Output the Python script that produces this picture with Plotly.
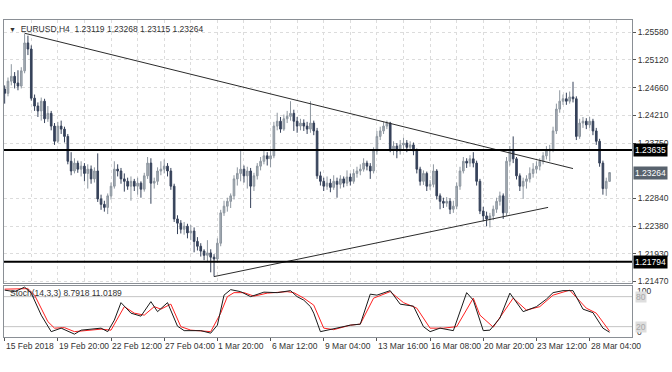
import datetime as dt
import plotly.graph_objects as go

# ---------------- data (EURUSD H4) ----------------
open_ = [
    1.2464, 1.2457, 1.2477, 1.2485, 1.2474, 1.2469, 1.2494, 1.2540, 1.2530, 1.2449,
    1.2436, 1.2428, 1.2444, 1.2415, 1.2424, 1.2403, 1.2378, 1.2403, 1.2398, 1.2386,
    1.2345, 1.2329, 1.2342, 1.2332, 1.2337, 1.2325, 1.2332, 1.2316, 1.2329, 1.2283,
    1.2274, 1.2269, 1.2288, 1.2304, 1.2332, 1.2329, 1.2316, 1.2312, 1.2304, 1.2312,
    1.2304, 1.2309, 1.2299, 1.2321, 1.2342, 1.2309, 1.2312, 1.2329, 1.2332, 1.2337,
    1.2329, 1.2304, 1.2250, 1.2243, 1.2233, 1.2238, 1.2227, 1.2230, 1.2213, 1.2205,
    1.2197, 1.2190, 1.2194, 1.2187, 1.2184, 1.2210, 1.2260, 1.2271, 1.2279, 1.2288,
    1.2316, 1.2325, 1.2332, 1.2321, 1.2329, 1.2304, 1.2321, 1.2337, 1.2345, 1.2354,
    1.2349, 1.2354, 1.2403, 1.2411, 1.2398, 1.2415, 1.2419, 1.2424, 1.2411, 1.2403,
    1.2408, 1.2403, 1.2398, 1.2408, 1.2395, 1.2321, 1.2312, 1.2304, 1.2309, 1.2302,
    1.2312, 1.2307, 1.2316, 1.2309, 1.2319, 1.2312, 1.2325, 1.2329, 1.2332, 1.2342,
    1.2337, 1.2329, 1.2362, 1.2386, 1.2395, 1.2403, 1.2408, 1.2365, 1.2370, 1.2362,
    1.2372, 1.2375, 1.2368, 1.2372, 1.2362, 1.2332, 1.2312, 1.2325, 1.2304, 1.2307,
    1.2329, 1.2288, 1.2279, 1.2276, 1.2279, 1.2266, 1.2271, 1.2304, 1.2329, 1.2345,
    1.2342, 1.2349, 1.2342, 1.2312, 1.2263, 1.2255, 1.2250, 1.2255, 1.2266, 1.2279,
    1.2288, 1.2260, 1.2345, 1.2362, 1.2349, 1.2321, 1.2304, 1.2312, 1.2316, 1.2325,
    1.2332, 1.2337, 1.2345, 1.2354, 1.2362, 1.2365, 1.2395, 1.2431, 1.2444, 1.2448,
    1.2444, 1.2451, 1.2448, 1.2386, 1.2408, 1.2411, 1.2405, 1.2411, 1.2395, 1.2378,
    1.2342, 1.2300, 1.23119,
]
high = [
    1.2470, 1.2483, 1.2505, 1.2492, 1.2495, 1.2500, 1.2555, 1.2552, 1.2536, 1.2455,
    1.2442, 1.2450, 1.2448, 1.2436, 1.2428, 1.2408, 1.2410, 1.2412, 1.2402, 1.2390,
    1.2360, 1.2350, 1.2346, 1.2345, 1.2342, 1.2340, 1.2338, 1.2335, 1.2358, 1.2290,
    1.2280, 1.2292, 1.2310, 1.2345, 1.2340, 1.2334, 1.2325, 1.2318, 1.2320, 1.2316,
    1.2318, 1.2312, 1.2326, 1.2352, 1.2350, 1.2318, 1.2335, 1.2345, 1.2348, 1.2342,
    1.2334, 1.2308, 1.2256, 1.2248, 1.2245, 1.2242, 1.2240, 1.2236, 1.2220, 1.2210,
    1.2200, 1.2215, 1.2200, 1.2192, 1.2218, 1.2265, 1.2280, 1.2285, 1.2292, 1.2322,
    1.2335, 1.2362, 1.2338, 1.2336, 1.2334, 1.2326, 1.2342, 1.2352, 1.2362, 1.2360,
    1.2365, 1.2410, 1.2425, 1.2418, 1.2422, 1.2428, 1.2444, 1.2430, 1.2418, 1.2415,
    1.2414, 1.2410, 1.2444, 1.2412, 1.2400, 1.2328, 1.2318, 1.2320, 1.2316, 1.2322,
    1.2318, 1.2322, 1.2320, 1.2330, 1.2325, 1.2332, 1.2336, 1.2340, 1.2350, 1.2346,
    1.2342, 1.2368, 1.2395, 1.2402, 1.2410, 1.2412, 1.2410, 1.2378, 1.2375, 1.2380,
    1.2384, 1.2380, 1.2378, 1.2376, 1.2366, 1.2336, 1.2330, 1.2328, 1.2314, 1.2340,
    1.2332, 1.2292, 1.2285, 1.2286, 1.2284, 1.2280, 1.2310, 1.2336, 1.2352, 1.2350,
    1.2355, 1.2360, 1.2346, 1.2316, 1.2270, 1.2262, 1.2260, 1.2272, 1.2285, 1.2295,
    1.2292, 1.2352, 1.2370, 1.2386, 1.2352, 1.2325, 1.2318, 1.2322, 1.2335, 1.2342,
    1.2345, 1.2350, 1.2360, 1.2370, 1.2372, 1.2402, 1.2440, 1.2462, 1.2455, 1.2458,
    1.2460, 1.2476, 1.2452, 1.2415, 1.2418, 1.2416, 1.2418, 1.2415, 1.2400, 1.2382,
    1.2346, 1.2318, 1.23268,
]
low = [
    1.2440, 1.2452, 1.2470, 1.2465, 1.2462, 1.2465, 1.2490, 1.2520, 1.2445, 1.2428,
    1.2418, 1.2412, 1.2408, 1.2410, 1.2396, 1.2372, 1.2375, 1.2390, 1.2376, 1.2340,
    1.2322, 1.2325, 1.2326, 1.2320, 1.2312, 1.2300, 1.2308, 1.2310, 1.2278, 1.2265,
    1.2262, 1.2258, 1.2282, 1.2300, 1.2320, 1.2308, 1.2295, 1.2298, 1.2280, 1.2296,
    1.2290, 1.2285, 1.2295, 1.2316, 1.2275, 1.2300, 1.2306, 1.2322, 1.2325, 1.2320,
    1.2298, 1.2245, 1.2225, 1.2226, 1.2224, 1.2218, 1.2215, 1.2195, 1.2198, 1.2188,
    1.2182, 1.2180, 1.2162, 1.2155, 1.2178, 1.2205, 1.2255, 1.2262, 1.2268, 1.2282,
    1.2305, 1.2312, 1.2310, 1.2300, 1.2268, 1.2296, 1.2315, 1.2330, 1.2340, 1.2338,
    1.2335, 1.2350, 1.2396, 1.2392, 1.2395, 1.2408, 1.2412, 1.2395, 1.2392, 1.2396,
    1.2395, 1.2390, 1.2392, 1.2388, 1.2316, 1.2305, 1.2296, 1.2298, 1.2294, 1.2298,
    1.2285, 1.2300, 1.2302, 1.2304, 1.2305, 1.2308, 1.2318, 1.2322, 1.2328, 1.2330,
    1.2316, 1.2325, 1.2356, 1.2380, 1.2390, 1.2398, 1.2360, 1.2355, 1.2350, 1.2356,
    1.2365, 1.2360, 1.2362, 1.2355, 1.2325, 1.2305, 1.2306, 1.2296, 1.2298, 1.2302,
    1.2282, 1.2266, 1.2268, 1.2270, 1.2258, 1.2260, 1.2266, 1.2298, 1.2325, 1.2334,
    1.2336, 1.2335, 1.2305, 1.2258, 1.2246, 1.2238, 1.2236, 1.2248, 1.2260, 1.2272,
    1.2250, 1.2255, 1.2338, 1.2342, 1.2315, 1.2296, 1.2283, 1.2300, 1.2310, 1.2318,
    1.2325, 1.2330, 1.2340, 1.2348, 1.2345, 1.2360, 1.2390, 1.2425, 1.2438, 1.2438,
    1.2440, 1.2442, 1.2380, 1.2382, 1.2400, 1.2398, 1.2400, 1.2388, 1.2372, 1.2336,
    1.2290, 1.2288, 1.23115,
]
close = [
    1.2457, 1.2477, 1.2485, 1.2474, 1.2469, 1.2494, 1.2540, 1.2530, 1.2449, 1.2436,
    1.2428, 1.2444, 1.2415, 1.2424, 1.2403, 1.2378, 1.2403, 1.2398, 1.2386, 1.2345,
    1.2329, 1.2342, 1.2332, 1.2337, 1.2325, 1.2332, 1.2316, 1.2329, 1.2283, 1.2274,
    1.2269, 1.2288, 1.2304, 1.2332, 1.2329, 1.2316, 1.2312, 1.2304, 1.2312, 1.2304,
    1.2309, 1.2299, 1.2321, 1.2342, 1.2309, 1.2312, 1.2329, 1.2332, 1.2337, 1.2329,
    1.2304, 1.2250, 1.2243, 1.2233, 1.2238, 1.2227, 1.2230, 1.2213, 1.2205, 1.2197,
    1.2190, 1.2194, 1.2187, 1.2184, 1.2210, 1.2260, 1.2271, 1.2279, 1.2288, 1.2316,
    1.2325, 1.2332, 1.2321, 1.2329, 1.2304, 1.2321, 1.2337, 1.2345, 1.2354, 1.2349,
    1.2354, 1.2403, 1.2411, 1.2398, 1.2415, 1.2419, 1.2424, 1.2411, 1.2403, 1.2408,
    1.2403, 1.2398, 1.2408, 1.2395, 1.2321, 1.2312, 1.2304, 1.2309, 1.2302, 1.2312,
    1.2307, 1.2316, 1.2309, 1.2319, 1.2312, 1.2325, 1.2329, 1.2332, 1.2342, 1.2337,
    1.2329, 1.2362, 1.2386, 1.2395, 1.2403, 1.2408, 1.2365, 1.2370, 1.2362, 1.2372,
    1.2375, 1.2368, 1.2372, 1.2362, 1.2332, 1.2312, 1.2325, 1.2304, 1.2307, 1.2329,
    1.2288, 1.2279, 1.2276, 1.2279, 1.2266, 1.2271, 1.2304, 1.2329, 1.2345, 1.2342,
    1.2349, 1.2342, 1.2312, 1.2263, 1.2255, 1.2250, 1.2255, 1.2266, 1.2279, 1.2288,
    1.2260, 1.2345, 1.2362, 1.2349, 1.2321, 1.2304, 1.2312, 1.2316, 1.2325, 1.2332,
    1.2337, 1.2345, 1.2354, 1.2362, 1.2365, 1.2395, 1.2431, 1.2444, 1.2448, 1.2444,
    1.2451, 1.2448, 1.2386, 1.2408, 1.2411, 1.2405, 1.2411, 1.2395, 1.2378, 1.2342,
    1.2300, 1.2312, 1.23264,
]

# Stochastic (14,3,3): main (black) and signal (red) read at bar indices
stoch_main_idx = [0, 3, 6, 8, 11, 14, 17, 21, 23, 27, 29, 31, 33, 35, 38, 41, 44, 46, 49, 52,
                  54, 59, 62, 64, 66, 68, 71, 74, 78, 82, 86, 88, 90, 92, 93, 95, 99, 104, 107, 110,
                  112, 116, 119, 123, 126, 128, 131, 135, 139, 141, 144, 146, 149, 152, 156, 160, 163, 165, 168, 171,
                  174, 177, 180, 182]
stoch_main_val = [93, 90, 99, 87, 43, 10, 17, 5, 13, 15, 17, 10, 33, 68, 47, 41, 70, 50, 68, 21,
                  12, 12, 7, 23, 83, 94, 90, 80, 89, 88, 92, 80, 73, 60, 47, 10, 16, 23, 25, 85,
                  83, 92, 65, 61, 20, 10, 17, 12, 88, 73, 12, 13, 37, 87, 50, 60, 75, 88, 92, 92,
                  55, 48, 17, 8.7918]
stoch_sig_idx = [0, 7, 9, 13, 15, 18, 21, 25, 29, 32, 36, 39, 42, 45, 47, 50, 53, 56, 62, 65,
                 67, 69, 72, 75, 79, 85, 87, 90, 93, 96, 99, 104, 107, 111, 116, 120, 124, 128, 132, 136,
                 141, 143, 147, 153, 157, 161, 165, 170, 175, 178, 182]
stoch_sig_val = [95, 96, 83, 30, 17, 18, 10, 13, 15, 13, 60, 47, 43, 60, 55, 65, 20, 13, 10, 47,
                 80, 88, 88, 81, 87, 90, 88, 77, 63, 17, 14, 23, 25, 77, 90, 68, 57, 17, 17, 20,
                 77, 43, 19, 77, 53, 60, 83, 93, 57, 47, 11.0189]

# drawn objects
levels = [1.23635, 1.21794]
trend_upper_idx = [6, 171]
trend_upper_price = [1.2556, 1.2333]
trend_lower_idx = [63, 163.5]
trend_lower_price = [1.2155, 1.2269]

price_ticks = [1.25580, 1.25120, 1.24660, 1.24210, 1.23750, 1.22840, 1.22380, 1.21930, 1.21470]
stoch_levels = [20, 80]

# broker session: Sunday 20:00 bars exist only while US/EU daylight-saving differ
sunday_bar_dates = [dt.date(2018, 3, 11), dt.date(2018, 3, 18)]

# ---------------- bar timestamps (H4) ----------------
n = len(close)
times = []
t = dt.datetime(2018, 2, 15, 4)
while len(times) < n:
    if t.weekday() < 5 or (t.date() in sunday_bar_dates and t.hour == 20):
        times.append(t)
    t += dt.timedelta(hours=4)
idx = list(range(n))
label_idx = list(range(0, n, 16))
label_txt = []
for k, i in enumerate(label_idx):
    tt = times[i]
    if k == 0:
        label_txt.append(f"{tt.day} {tt:%b %Y}")
    else:
        label_txt.append(f"{tt.day} {tt:%b %H:%M}")
grid_idx = list(range(0, n + 8, 8))

FONT = "Liberation Sans"
FS = 8.5
UP_FILL, UP_LINE = "#a7afb7", "#8d969f"
DN_FILL, DN_LINE = "#36425a", "#36425a"

fig = go.Figure()
fig.add_trace(go.Candlestick(
    x=idx, open=open_, high=high, low=low, close=close,
    increasing=dict(fillcolor=UP_FILL, line=dict(color=UP_LINE, width=1)),
    decreasing=dict(fillcolor=DN_FILL, line=dict(color=DN_LINE, width=1)),
    whiskerwidth=0, xaxis="x", yaxis="y", hoverinfo="skip",
))
fig.add_trace(go.Scatter(x=trend_upper_idx, y=trend_upper_price, mode="lines",
                         line=dict(color="#2b2b2b", width=1), xaxis="x", yaxis="y", hoverinfo="skip"))
fig.add_trace(go.Scatter(x=trend_lower_idx, y=trend_lower_price, mode="lines",
                         line=dict(color="#2b2b2b", width=1), xaxis="x", yaxis="y", hoverinfo="skip"))
fig.add_trace(go.Scatter(x=stoch_sig_idx, y=stoch_sig_val, mode="lines",
                         line=dict(color="#ff2020", width=1), xaxis="x2", yaxis="y2", hoverinfo="skip"))
fig.add_trace(go.Scatter(x=stoch_main_idx, y=stoch_main_val, mode="lines",
                         line=dict(color="#1a1a1a", width=1), xaxis="x2", yaxis="y2", hoverinfo="skip"))

shapes = []
for lv in levels:
    shapes.append(dict(type="line", xref="paper", x0=0, x1=1, yref="y", y0=lv, y1=lv,
                       line=dict(color="#000000", width=2), layer="above"))
for lv in stoch_levels:
    shapes.append(dict(type="line", xref="paper", x0=0, x1=1, yref="y2", y0=lv, y1=lv,
                       line=dict(color="#c4c4c4", width=1), layer="below"))

ann = []
ann.append(dict(xref="paper", yref="paper", x=0, y=1, xanchor="left", yanchor="top",
                xshift=3, yshift=-2, showarrow=False,
                text='<span style="font-size:7px">▼</span>&nbsp;&nbsp;EURUSD,H4&nbsp;&nbsp;1.23119 1.23268 1.23115 1.23264',
                font=dict(family=FONT, size=FS, color="#333333")))
ann.append(dict(xref="paper", yref="y2", x=0, y=87, xanchor="left", yanchor="middle",
                xshift=4, showarrow=False, text="Stoch(14,3,3) 8.7918 11.0189",
                font=dict(family=FONT, size=FS, color="#333333")))
for i, txt in zip(label_idx, label_txt):
    ann.append(dict(xref="x2", yref="paper", x=i, y=0, xanchor="left", yanchor="top",
                    yshift=-2, xshift=-1, showarrow=False, text=txt,
                    font=dict(family=FONT, size=FS, color="#333333")))
# price boxes on right scale
for val, bg in [(levels[0], "#000000"), (levels[1], "#000000"), (close[-1], "#58626d")]:
    ann.append(dict(xref="paper", yref="y", x=1, y=val, xanchor="left", yanchor="middle",
                    xshift=1, showarrow=False, text=f"{val:.5f}", bgcolor=bg, borderpad=1,
                    font=dict(family=FONT, size=FS, color="#ffffff")))
# stochastic scale labels
ann.append(dict(xref="paper", yref="y2", x=1, y=91, xanchor="left", yanchor="middle", xshift=3,
                showarrow=False, text="100", font=dict(family=FONT, size=FS, color="#333333")))
ann.append(dict(xref="paper", yref="y2", x=1, y=9, xanchor="left", yanchor="middle", xshift=3,
                showarrow=False, text="0", font=dict(family=FONT, size=FS, color="#333333")))
for lv in stoch_levels:
    ann.append(dict(xref="paper", yref="y2", x=1, y=lv, xanchor="left", yanchor="middle", xshift=3,
                    showarrow=False, text=str(lv), bgcolor="#dedede", borderpad=0,
                    font=dict(family=FONT, size=FS, color="#a8a8a8")))

xr = [-0.2, 188.75]
fig.update_layout(
    width=672, height=372,
    margin=dict(l=3, r=36, t=20, b=35),
    paper_bgcolor="white", plot_bgcolor="white",
    showlegend=False,
    shapes=shapes, annotations=ann,
    xaxis=dict(domain=[0, 1], anchor="y", range=xr, rangeslider=dict(visible=False),
               tickvals=grid_idx, showticklabels=False, ticks="",
               showgrid=True, gridcolor="#dcdcdc", griddash="dot", gridwidth=1,
               showline=True, mirror=True, linecolor="#8a8f95", linewidth=1, zeroline=False),
    yaxis=dict(domain=[0.1703, 1], anchor="x", range=[1.21444, 1.25778], side="right",
               tickvals=price_ticks, ticktext=[f"{v:.5f}" for v in price_ticks],
               ticks="outside", ticklen=3, tickcolor="#555555",
               tickfont=dict(family=FONT, size=FS, color="#333333"),
               showgrid=True, gridcolor="#dcdcdc", griddash="dot", gridwidth=1,
               showline=True, mirror=True, linecolor="#8a8f95", linewidth=1, zeroline=False),
    xaxis2=dict(domain=[0, 1], anchor="y2", range=xr,
                tickvals=label_idx, showticklabels=False, ticks="outside", ticklen=3,
                tickcolor="#555555", showgrid=False,
                showline=True, mirror=True, linecolor="#8a8f95", linewidth=1, zeroline=False),
    yaxis2=dict(domain=[0, 0.1609], anchor="x2", range=[-0.7, 101.3], side="right",
                showticklabels=False, ticks="", showgrid=False,
                showline=True, mirror=True, linecolor="#8a8f95", linewidth=1, zeroline=False),
)

# remove the browser's default 8px page margin so the figure sits at the window origin
fig.write_html("out.html", config={"displayModeBar": False},
               post_script="document.body.style.margin='0';")
